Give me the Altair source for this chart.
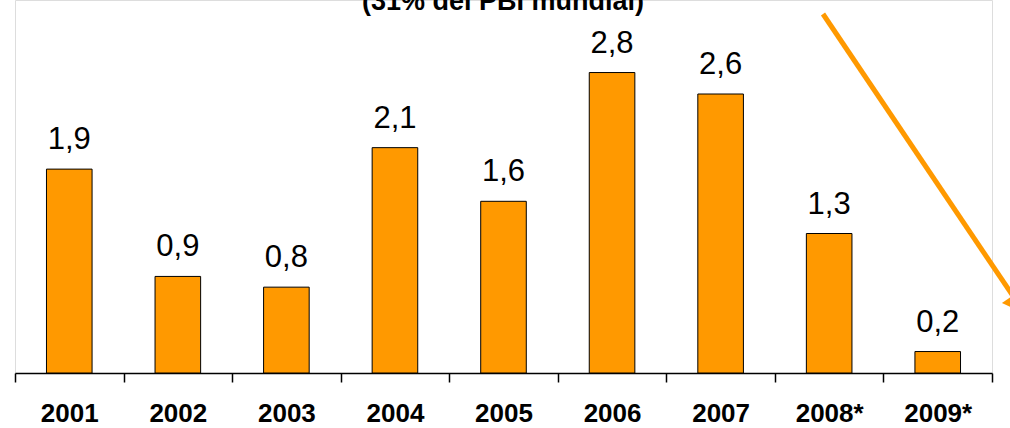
import altair as alt
import pandas as pd

# Annual growth figures by year (asterisk = estimate)
years = ["2001", "2002", "2003", "2004", "2005", "2006", "2007", "2008*", "2009*"]
growth = [1.9, 0.9, 0.8, 2.1, 1.6, 2.8, 2.6, 1.3, 0.2]
labels = ["1,9", "0,9", "0,8", "2,1", "1,6", "2,8", "2,6", "1,3", "0,2"]
subtitle = "(31% del PBI mundial)"

ORANGE = "#FF9900"
FONT = "Liberation Sans"

df = pd.DataFrame({"year": years, "growth": growth, "label": labels})

x = alt.X(
    "year:N",
    sort=years,
    scale=alt.Scale(paddingInner=0, paddingOuter=0),
    axis=alt.Axis(
        title=None,
        labelAngle=0,
        labelFont=FONT,
        labelFontSize=26,
        labelFontWeight="bold",
        labelColor="black",
        labelPadding=18,
        tickBand="extent",
        tickSize=9,
        tickColor="black",
        domainColor="black",
        domainWidth=1.5,
        tickWidth=1.5,
        grid=False,
    ),
)
y = alt.Y("growth:Q", scale=alt.Scale(domain=[0, 3.476], nice=False), axis=None)

base = alt.Chart(df).encode(x=x, y=y)

bars = base.mark_bar(
    color=ORANGE, stroke="black", strokeWidth=1, width=alt.RelativeBandSize(0.42)
)

values = base.mark_text(
    font=FONT, fontSize=31, color="black", baseline="alphabetic", dy=-20
).encode(text="label:N")

heading = alt.Chart(pd.DataFrame({"t": [subtitle]})).mark_text(
    font=FONT, fontSize=27, fontWeight="bold", color="black", baseline="alphabetic"
).encode(x=alt.value(488), y=alt.value(10), text="t:N")

# Falling-trend arrow across the right side
arrow_line = alt.Chart(pd.DataFrame({"k": [0]})).mark_rule(
    color=ORANGE, strokeWidth=5, strokeCap="butt"
).encode(x=alt.value(808), y=alt.value(14), x2=alt.value(998), y2=alt.value(296))

arrow_head = alt.Chart(pd.DataFrame({"k": [0]})).mark_point(
    shape="triangle-right", filled=True, color=ORANGE, opacity=1, size=676, angle=56.1
).encode(x=alt.value(1004), y=alt.value(305))

chart = (
    alt.layer(bars, values, heading, arrow_line, arrow_head)
    .properties(
        width=977,
        height=373,
        autosize=alt.AutoSizeParams(type="none"),
        padding={"left": 15, "top": 0, "right": 18, "bottom": 55},
    )
    .configure_view(strokeWidth=0, stroke="transparent")
    .configure(background="white")
)

chart.save("out.html", embed_options={"renderer": "svg", "actions": False})
